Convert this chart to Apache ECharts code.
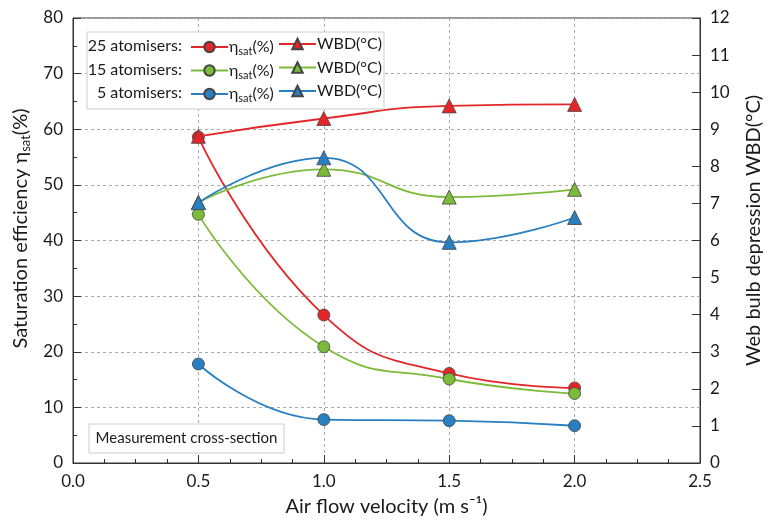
<!DOCTYPE html>
<html>
<head>
<meta charset="utf-8">
<script src="https://cdn.jsdelivr.net/npm/echarts@6/dist/echarts.min.js"></script>
<style>html,body{margin:0;padding:0;background:#fff}#c{width:772px;height:522px}</style>
</head>
<body>
<div id="c"></div>
<script>
const velocity = [0.5, 1.0, 1.5, 2.0];
const eta25 = [58.6, 26.6, 16.1, 13.5];
const eta15 = [44.7, 20.9, 15.1, 12.5];
const eta5  = [17.8, 7.8, 7.6, 6.7];
const wbd25 = [8.81, 9.29, 9.63, 9.67];
const wbd15 = [7.03, 7.92, 7.17, 7.38];
const wbd5  = [7.02, 8.23, 5.95, 6.62];
const leftTicks = [0, 10, 20, 30, 40, 50, 60, 70, 80];
const rightTicks = [0, 1, 2, 3, 4, 5, 6, 7, 8, 9, 10, 11, 12];
const groups = ['25 atomisers:', '15 atomisers:', '5 atomisers:'];

const RED = '#e3262a', GREEN = '#7cbb3a', BLUE = '#2a7fc0';
const FONT = 'Lato';
const pairs = (ys) => velocity.map((x, i) => [x, ys[i]]);

function mk(name, ys, color, axis, symbol) {
  return {
    name, type: 'line', yAxisIndex: axis, smooth: 0.5,
    data: pairs(ys), symbol, symbolSize: symbol === 'circle' ? 12 : 14,
    lineStyle: { color, width: 1.8 },
    itemStyle: { color, borderColor: '#444', borderWidth: 0.8 },
    z: symbol === 'circle' ? 3 : 4
  };
}
const series = [
  mk('e25', eta25, RED, 0, 'circle'),
  mk('e15', eta15, GREEN, 0, 'circle'),
  mk('e5', eta5, BLUE, 0, 'circle'),
  mk('w25', wbd25, RED, 1, 'triangle'),
  mk('w15', wbd15, GREEN, 1, 'triangle'),
  mk('w5', wbd5, BLUE, 1, 'triangle')
];
const richT = {
  a: { fontFamily: FONT, fontSize: 16, color: '#1a1a1a', lineHeight: 20 },
  s: { fontFamily: FONT, fontSize: 11, color: '#1a1a1a', verticalAlign: 'bottom', lineHeight: 20, padding: [10, 0, 0, 0] }
};
const rowY = [46, 69.5, 93];
function legend(row, name, left) {
  return {
    left, top: rowY[row] - 10, padding: 0,
    itemWidth: 37, itemHeight: 13, itemGap: 0,
    data: [name], selectedMode: false, z: 6,
    formatter: n => n[0] === 'e' ? '{a|η}{s|sat}{a|(%)}' : '{a|WBD(°C)}',
    textStyle: { rich: richT, padding: [0, 0, 0, -4] }
  };
}
const legends = [];
[['e25', 'w25'], ['e15', 'w15'], ['e5', 'w5']].forEach((p, i) => {
  legends.push(legend(i, p[0], 190), legend(i, p[1], 278));
});
const chart = echarts.init(document.getElementById('c'));
const axisLab = { fontFamily: FONT, fontSize: 17, color: '#1a1a1a', margin: 10 };
chart.setOption({
  animation: false,
  grid: { left: 73, right: 59, top: 18, bottom: 55, show: true, borderColor: '#333', borderWidth: 1 },
  xAxis: {
    type: 'value', min: 0, max: 2.5, interval: 0.5,
    name: 'Air flow velocity (m s⁻¹)', nameLocation: 'middle', nameGap: 34,
    nameTextStyle: { fontFamily: FONT, fontSize: 20, color: '#1a1a1a' },
    axisLine: { lineStyle: { color: '#333' } },
    axisTick: { inside: true, length: 8, lineStyle: { color: '#333' } },
    minorTick: { show: true, splitNumber: 4, length: 4, lineStyle: { color: '#333' } },
    axisLabel: { ...axisLab, formatter: v => v.toFixed(1) },
    splitLine: { show: true, lineStyle: { color: '#aaa', type: [3, 3] } }
  },
  yAxis: [{
    type: 'value', min: leftTicks[0], max: leftTicks[leftTicks.length - 1], interval: 10,
    name: '{a|Saturation efficiency η}{s|sat}{a|(%)}', nameLocation: 'middle', nameGap: 38, nameRotate: 90,
    nameTextStyle: { padding: [0, 0, 0, 24], rich: {
      a: { fontFamily: FONT, fontSize: 20, color: '#1a1a1a', lineHeight: 24 },
      s: { fontFamily: FONT, fontSize: 13, color: '#1a1a1a', verticalAlign: 'bottom', lineHeight: 24, padding: [11, 0, 0, 0] } } },
    axisLine: { show: true, lineStyle: { color: '#333' } },
    axisTick: { show: true, inside: true, length: 8, lineStyle: { color: '#333' } },
    minorTick: { show: true, splitNumber: 2, length: 4, lineStyle: { color: '#333' } },
    axisLabel: axisLab,
    splitLine: { show: true, lineStyle: { color: '#aaa', type: [3, 3] } }
  }, {
    type: 'value', min: rightTicks[0], max: rightTicks[rightTicks.length - 1], interval: 1,
    name: 'Web bulb depression WBD(°C)', nameLocation: 'middle', nameGap: 44, nameRotate: 90,
    nameTextStyle: { fontFamily: FONT, fontSize: 20, color: '#1a1a1a', padding: [0, 0, 0, 20] },
    axisLine: { show: true, lineStyle: { color: '#333' } },
    axisTick: { show: true, inside: true, length: 8, lineStyle: { color: '#333' } },
    axisLabel: axisLab,
    splitLine: { show: false }
  }],
  legend: legends,
  graphic: [
    { type: 'rect', z: 5, shape: { x: 87, y: 32, width: 297, height: 77 },
      style: { fill: '#fff', stroke: '#ccc', lineWidth: 1 } },
    ...groups.map((g, i) => ({ type: 'text', z: 6, x: 182, y: rowY[i],
      style: { text: g, fontFamily: FONT, fontSize: 16, fill: '#1a1a1a', align: 'right', verticalAlign: 'middle' } })),
    { type: 'rect', z: 5, shape: { x: 89, y: 424, width: 195, height: 29 },
      style: { fill: '#fff', stroke: '#ccc', lineWidth: 1 } },
    { type: 'text', z: 6, x: 186.5, y: 438.5,
      style: { text: 'Measurement cross-section', fontFamily: FONT, fontSize: 15, fill: '#1a1a1a', align: 'center', verticalAlign: 'middle' } }
  ],
  series
});
</script>
</body>
</html>
